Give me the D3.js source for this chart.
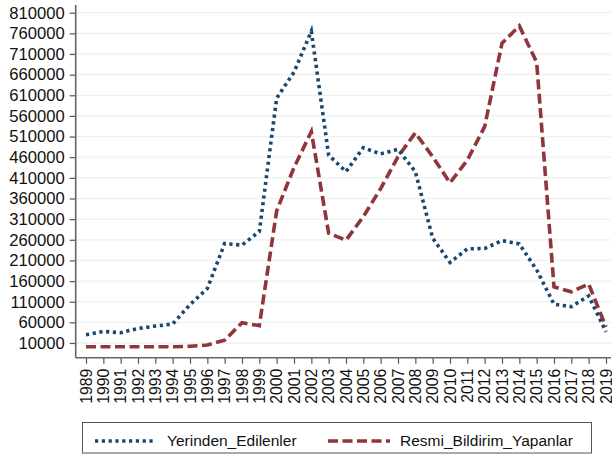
<!DOCTYPE html>
<html><head><meta charset="utf-8">
<script src="https://cdn.jsdelivr.net/npm/d3@7/dist/d3.min.js"></script>
<style>body{margin:0;background:#fff}svg{display:block}</style>
</head><body>
<svg id="c" width="612" height="458"></svg>
<script>
const years = d3.range(1989, 2020);
const yerinden = [30000,38000,35000,45000,51000,56000,103000,142000,251000,247000,280000,603000,666000,765000,465000,425000,483000,468000,479000,425000,264000,205000,238000,239000,258000,250000,187000,104000,98000,124000,37000];
const resmi = [1000,1000,1000,1000,1000,1000,2000,5000,17000,59000,52000,330000,435000,522000,276000,259000,316000,384000,461000,519000,461000,398000,453000,534000,736000,778000,690000,146000,134000,153000,49000];
const yTicks = d3.range(10000, 810001, 50000);
const seriesNames = ["Yerinden_Edilenler", "Resmi_Bildirim_Yapanlar"];
const colors = ["#1a476f", "#90353b"];

const svg = d3.select("#c");
const L = 75.7, R = 611, T = 5, B = 357.7;
const x = d3.scaleLinear().domain([1989, 2019]).range([86, 606]);
const y = d3.scaleLinear().domain([10000, 810000]).range([343, 12.7]);
const font = "'Liberation Sans', Arial, sans-serif";

// gridlines
svg.append("g").selectAll("line").data(yTicks).join("line")
  .attr("x1", L).attr("x2", R).attr("y1", d => y(d)).attr("y2", d => y(d))
  .attr("stroke", "#eaf2f3").attr("stroke-width", 1.3);

// y axis
const ya = svg.append("g").attr("transform", `translate(${L},0)`)
  .call(d3.axisLeft(y).tickValues(yTicks).tickFormat(d3.format("d")).tickSize(6).tickPadding(5));
ya.select(".domain").remove();
ya.selectAll("line").attr("stroke", "#555").attr("stroke-width", 1.2);
ya.selectAll("text").attr("font-family", font).attr("font-size", 16.6).attr("fill", "#111");
svg.append("line").attr("x1", L).attr("x2", L).attr("y1", T).attr("y2", B)
  .attr("stroke", "#666").attr("stroke-width", 1.6);

// x axis
const xa = svg.append("g").attr("transform", `translate(0,${B})`)
  .call(d3.axisBottom(x).tickValues(years).tickFormat(d3.format("d")).tickSize(6).tickPadding(5));
xa.select(".domain").remove();
xa.selectAll("line").attr("stroke", "#555").attr("stroke-width", 1.2);
xa.selectAll("text").attr("font-family", font).attr("font-size", 15.8).attr("fill", "#111")
  .attr("transform", "rotate(-90)").attr("text-anchor", "end")
  .attr("x", -11).attr("y", 0).attr("dy", "0.33em");
svg.append("line").attr("x1", L).attr("x2", R).attr("y1", B).attr("y2", B)
  .attr("stroke", "#666").attr("stroke-width", 1.6);

const line = d3.line().x((d, i) => x(years[i])).y(d => y(d));
svg.append("path").datum(resmi).attr("d", line).attr("fill", "none")
  .attr("stroke", colors[1]).attr("stroke-width", 3.6).attr("stroke-dasharray", "10,4.5");
svg.append("path").datum(yerinden).attr("d", line).attr("fill", "none")
  .attr("stroke", colors[0]).attr("stroke-width", 3.6).attr("stroke-dasharray", "3.2,3.6");

// legend
const lg = svg.append("g");
lg.append("rect").attr("x", 82.5).attr("y", 422.5).attr("width", 509).attr("height", 30.5)
  .attr("fill", "#fff").attr("stroke", "#555").attr("stroke-width", 1);
const lx = [[95, 156, 167], [328, 390, 400]];
const dash = ["3.2,3.6", "10,4.5"];
seriesNames.forEach((n, i) => {
  lg.append("line").attr("x1", lx[i][0]).attr("x2", lx[i][1]).attr("y1", 441).attr("y2", 441)
    .attr("stroke", colors[i]).attr("stroke-width", 3.6).attr("stroke-dasharray", dash[i]);
  lg.append("text").attr("x", lx[i][2]).attr("y", 441).attr("dy", "0.35em")
    .attr("font-family", font).attr("font-size", 15.5).attr("fill", "#111").text(n);
});
</script>
</body></html>
